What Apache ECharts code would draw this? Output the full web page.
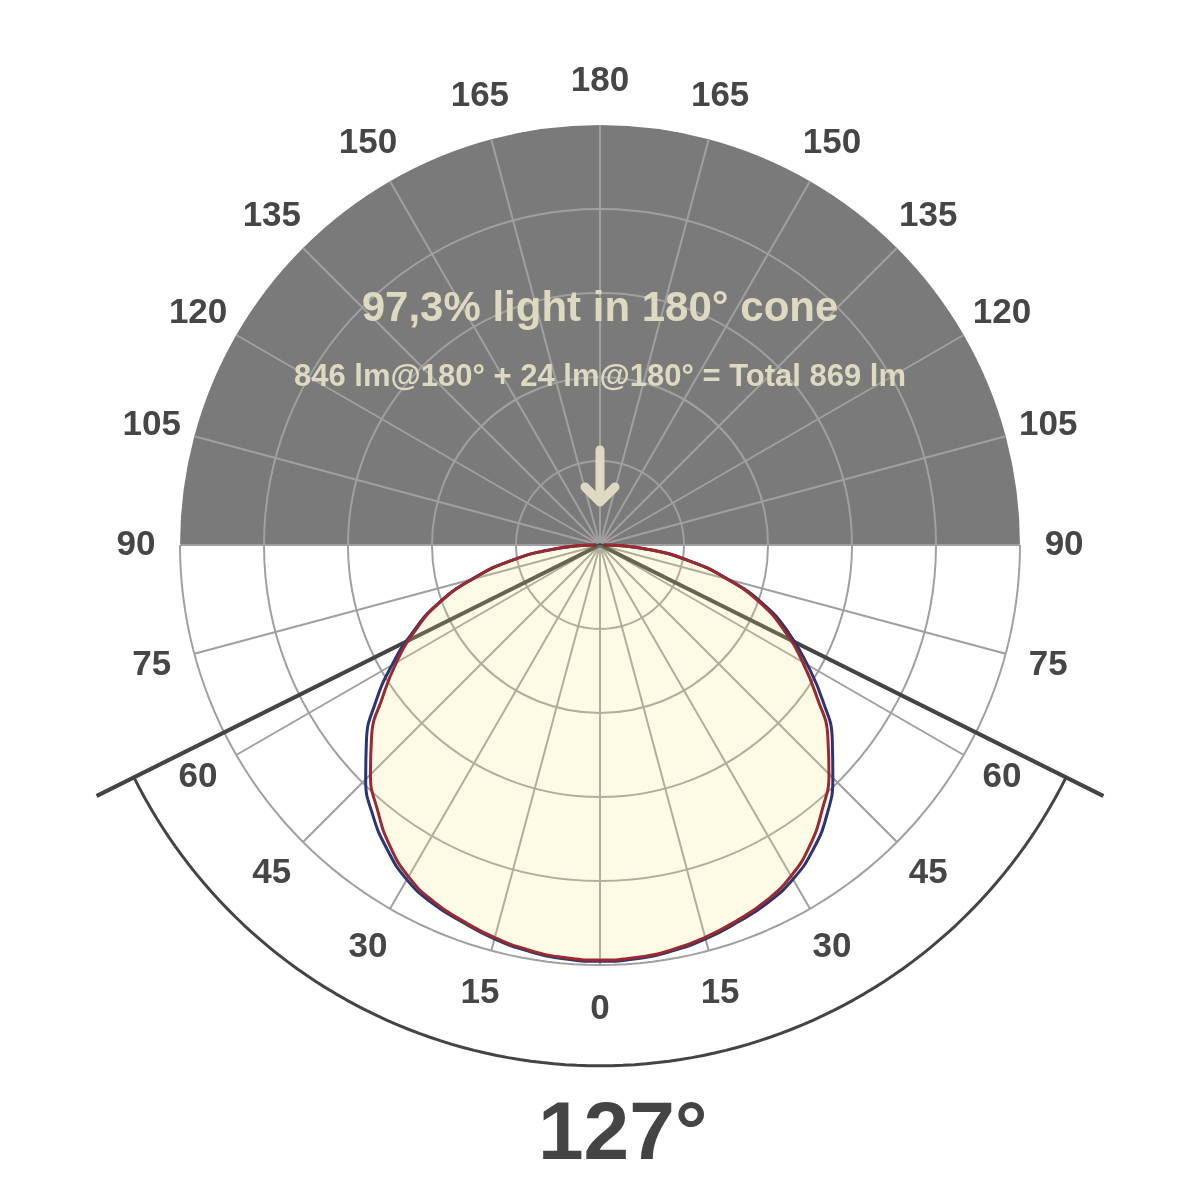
<!DOCTYPE html>
<html>
<head>
<meta charset="utf-8">
<style>
  html, body { margin: 0; padding: 0; background: #ffffff; }
  #main { width: 1200px; height: 1200px; }
</style>
<script src="https://cdn.jsdelivr.net/npm/echarts@6/dist/echarts.min.js"></script>
</head>
<body>
<div id="main"></div>
<script>
// gamma angles, negative = right half, positive = left half (0 = straight down)
var angles = [-90, -85, -80, -75, -70, -65, -60, -55, -50, -45, -40, -35, -30, -25, -20, -15, -10, -5,
  0, 5, 10, 15, 20, 25, 30, 35, 40, 45, 50, 55, 60, 65, 70, 75, 80, 85, 90];

// relative intensity, 100 = outer ring
var redValues = [1, 11, 21.4, 31.3, 40.8, 48.5, 55.7, 63, 70.8, 77.1, 82.3, 87.2, 91, 93.5, 95.2, 96.7, 97.9, 98.6,
  98.8, 98.6, 97.9, 96.8, 95.3, 93.7, 91.2, 87.3, 82.4, 77.3, 71, 63.2, 56, 48.7, 41, 31.5, 21.5, 11, 1];
var blueValues = [0.8, 10.8, 21.4, 31.6, 41.6, 49.6, 57, 64.8, 72.2, 78.4, 84, 88.5, 91.9, 94.1, 95.6, 97.1, 98.2, 98.9,
  99.1, 98.9, 98.2, 97.1, 95.6, 94.2, 92, 88.4, 84.1, 78.9, 72.6, 65.2, 57.2, 49.2, 41.2, 31.6, 21.5, 10.8, 0.8];

// angle tick labels round the diagram
var labelAngles = [-165, -150, -135, -120, -105, -90, -75, -60, -45, -30, -15,
  0, 15, 30, 45, 60, 75, 90, 105, 120, 135, 150, 165, 180];

var coneAngle = 127;
var coneLength = 134;
var arcRadius = 124;
var labelRadius = 110.5;
var ringMax = 100;

var titleMain = '97,3% light in 180° cone';
var titleSub = '846 lm@180° + 24 lm@180° = Total 869 lm';
var coneLabel = coneAngle + '°';

var chartDom = document.getElementById('main');
var myChart = echarts.init(chartDom);
var option;

var font = '"Liberation Sans", Arial, sans-serif';
var beige = '#dedac2';
var gridColor = '#a0a0a0';
var pxPerUnit = 4.2;

function toPolar(values) {
  return values.map(function (v, i) { return [v, angles[i]]; });
}

// points along a circle of radius r between two angles
function arcPoints(r, from, to) {
  var pts = [];
  var step = (to - from) / 100;
  for (var k = 0; k <= 100; k++) pts.push([r, from + step * k]);
  return pts;
}

// 24 sectors of 15°, starting at the top going clockwise over the right side
var bgColors = [];
for (var i = 0; i < 24; i++) {
  bgColors.push(i < 6 || i >= 18 ? '#7a7a7a' : 'rgba(255,255,255,0)');
}

var angleBase = {
  type: 'value',
  min: -180,
  max: 180,
  interval: 15,
  startAngle: 90,
  clockwise: true
};
var hidden = {
  axisLine: { show: false },
  axisTick: { show: false },
  axisLabel: { show: false },
  splitLine: { show: false },
  splitArea: { show: false }
};

option = {
  backgroundColor: '#ffffff',
  animation: false,
  title: [{
    text: titleMain,
    left: 'center',
    top: 288,
    padding: 0,
    textStyle: { color: beige, fontSize: 42, fontWeight: 'bold', fontFamily: font }
  }, {
    text: titleSub,
    left: 'center',
    top: 362,
    padding: 0,
    textStyle: { color: beige, fontSize: 31, fontWeight: 'bold', fontFamily: font }
  }, {
    text: coneLabel,
    left: 538,
    top: 1095,
    padding: 0,
    textStyle: { color: '#444444', fontSize: 82, fontWeight: 'bold', fontFamily: font }
  }],
  polar: [
    { center: [600, 545], radius: ringMax * pxPerUnit },
    { center: [600, 545], radius: ringMax * pxPerUnit },
    { center: [600, 545], radius: coneLength * pxPerUnit }
  ],
  angleAxis: [
    Object.assign({}, angleBase, hidden, {
      polarIndex: 0,
      z: 0,
      splitArea: { show: true, areaStyle: { color: bgColors } }
    }),
    Object.assign({}, angleBase, hidden, {
      polarIndex: 1,
      z: 1,
      splitLine: { show: true, lineStyle: { color: gridColor, width: 2 } }
    }),
    Object.assign({}, angleBase, hidden, { polarIndex: 2 })
  ],
  radiusAxis: [{
    polarIndex: 0,
    min: 0,
    max: ringMax,
    show: false
  }, {
    polarIndex: 1,
    z: 1,
    min: 0,
    max: ringMax,
    interval: 20,
    axisLine: { show: false },
    axisTick: { show: false },
    axisLabel: { show: false },
    // outermost ring is drawn only over the lower half (series below)
    splitLine: {
      show: true,
      lineStyle: { color: [gridColor, gridColor, gridColor, gridColor, gridColor, 'rgba(0,0,0,0)'], width: 2 }
    }
  }, {
    polarIndex: 2,
    min: 0,
    max: coneLength,
    show: false
  }],
  graphic: [{
    type: 'polyline',
    z: 20,
    shape: { points: [[600, 450], [600, 499]] },
    style: { stroke: beige, lineWidth: 9, lineCap: 'round', fill: null }
  }, {
    type: 'polyline',
    z: 20,
    shape: { points: [[585, 487], [600, 502], [615, 487]] },
    style: { stroke: beige, lineWidth: 9, lineCap: 'round', lineJoin: 'round', fill: null }
  }],
  series: [{
    name: 'outer ring',
    type: 'line',
    coordinateSystem: 'polar',
    polarIndex: 2,
    symbol: 'none',
    silent: true,
    data: arcPoints(ringMax, -90, 90),
    lineStyle: { color: gridColor, width: 2 },
    z: 1
  }, {
    name: 'cone',
    type: 'line',
    coordinateSystem: 'polar',
    polarIndex: 2,
    symbol: 'none',
    data: [[coneLength, -coneAngle / 2], [0, 0], [coneLength, coneAngle / 2]],
    lineStyle: { color: '#444444', width: 4 },
    z: 2
  }, {
    name: 'arc',
    type: 'line',
    coordinateSystem: 'polar',
    polarIndex: 2,
    symbol: 'none',
    data: arcPoints(arcRadius, -coneAngle / 2, coneAngle / 2),
    lineStyle: { color: '#444444', width: 3 },
    z: 2
  }, {
    name: 'fill',
    type: 'line',
    coordinateSystem: 'polar',
    polarIndex: 1,
    symbol: 'none',
    smooth: 0.5,
    data: toPolar(redValues),
    lineStyle: { width: 0 },
    areaStyle: { color: 'rgba(245,232,130,0.2)', opacity: 1 },
    z: 3
  }, {
    name: 'C90',
    type: 'line',
    coordinateSystem: 'polar',
    polarIndex: 1,
    symbol: 'none',
    smooth: 0.5,
    data: toPolar(blueValues),
    lineStyle: { color: '#2b3575', width: 3 },
    z: 4
  }, {
    name: 'C0',
    type: 'line',
    coordinateSystem: 'polar',
    polarIndex: 1,
    symbol: 'none',
    smooth: 0.5,
    data: toPolar(redValues),
    lineStyle: { color: '#9a2a2e', width: 3 },
    z: 5
  }, {
    name: 'labels',
    type: 'scatter',
    coordinateSystem: 'polar',
    polarIndex: 2,
    silent: true,
    symbolSize: 1,
    itemStyle: { color: 'rgba(0,0,0,0)', opacity: 1 },
    data: labelAngles.map(function (ang) { return [labelRadius, ang]; }),
    label: {
      show: true,
      position: 'inside',
      color: '#464646',
      opacity: 1,
      fontSize: 35,
      fontWeight: 'bold',
      fontFamily: font,
      formatter: function (p) { return Math.abs(p.value[1]); }
    },
    z: 6
  }]
};

option && myChart.setOption(option);
</script>
</body>
</html>
